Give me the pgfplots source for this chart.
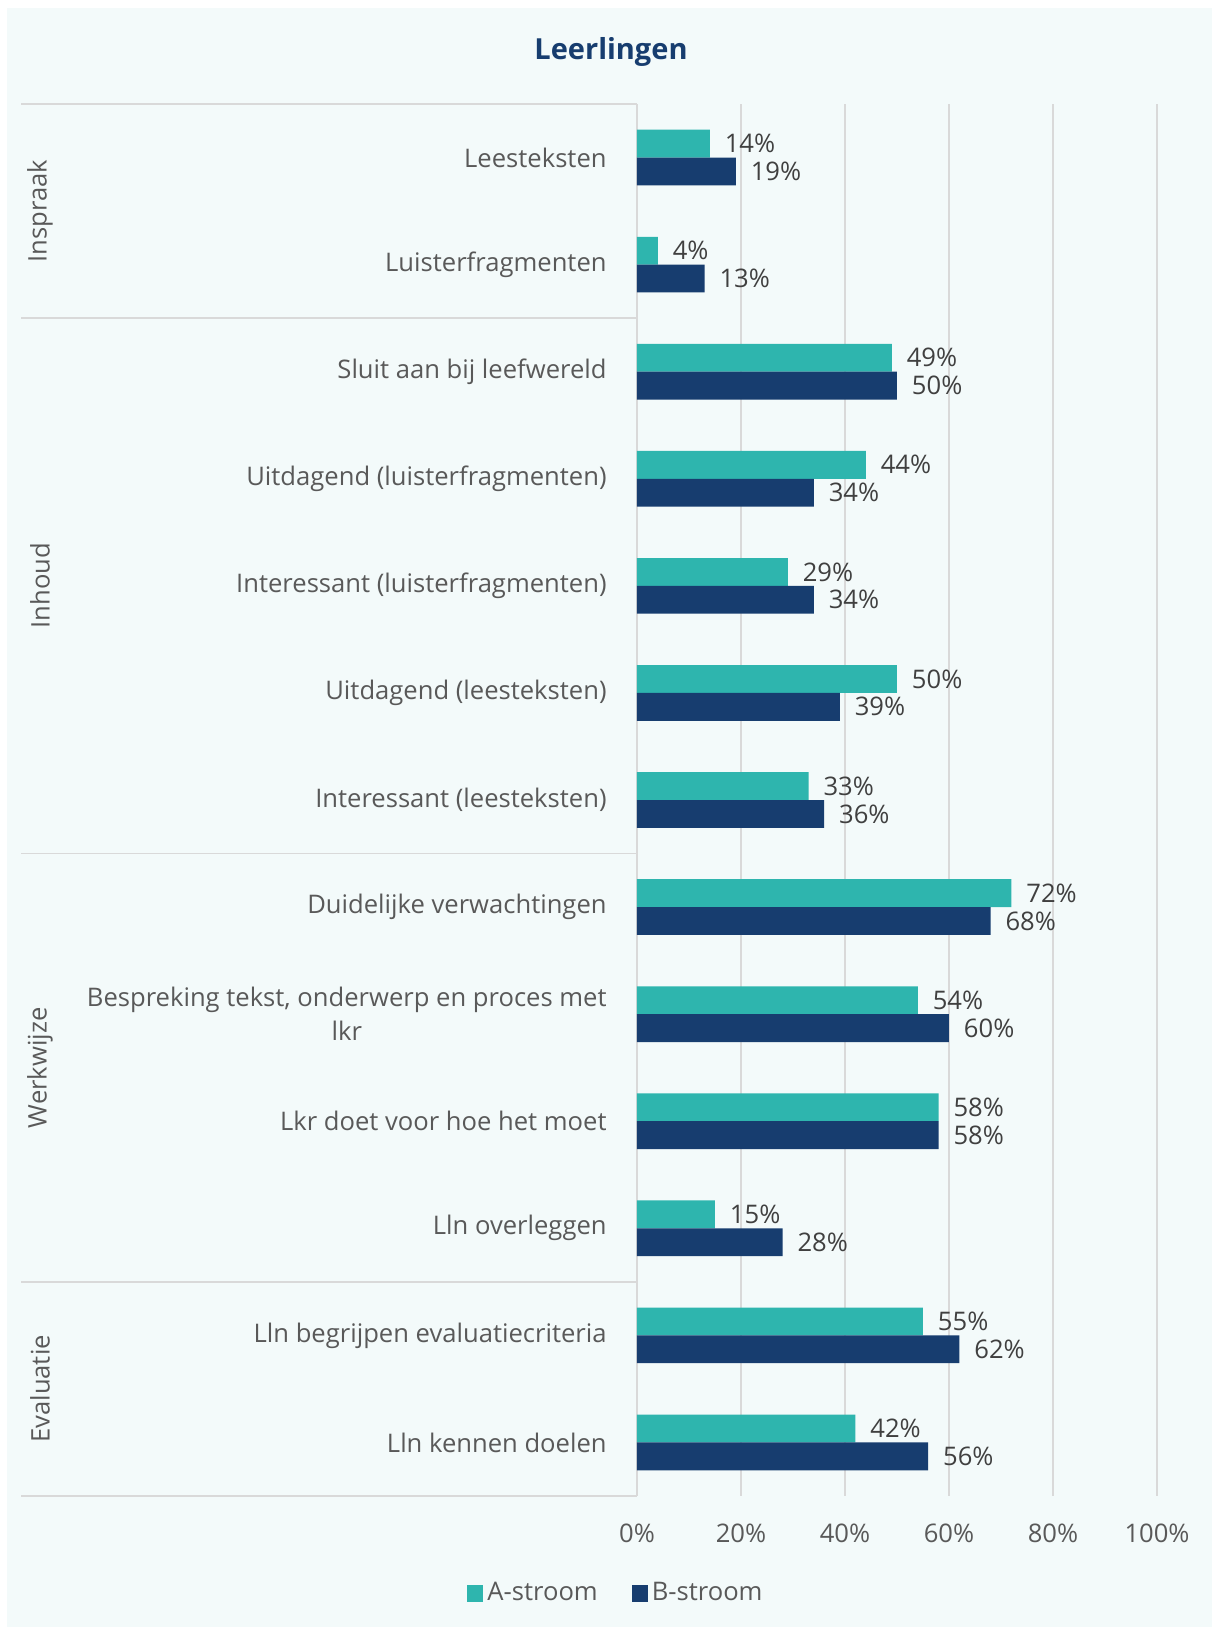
\documentclass[border=0pt]{standalone}
\usepackage{fontspec}
\setmainfont{Open Sans}
\usepackage{pgfplots}
\pgfplotsset{compat=1.18}

\definecolor{astroom}{HTML}{2EB5AE}
\definecolor{bstroom}{HTML}{173D6F}
\definecolor{bgmint}{HTML}{F3FAFA}
\definecolor{gridgray}{HTML}{D9D9D9}
\definecolor{textgray}{HTML}{595959}
\definecolor{labelgray}{HTML}{404040}

\pgfplotsset{sqlegend/.style={legend image code/.code={\fill[##1] (0pt,-4.25pt) rectangle (8pt,4.25pt);}}}

\begin{document}
\begin{tikzpicture}[font=\fontsize{12.8}{17}\selectfont]
\path[use as bounding box, fill=white] (-318.5pt,-65.5pt) rectangle (287.5pt,748pt);
\fill[bgmint] (-315pt,-65.5pt) rectangle (287.5pt,744pt);
\node[font=\fontsize{14.5}{17}\selectfont\bfseries, text=bstroom] at (-13pt,722pt) {Leerlingen};

\begin{axis}[
  at={(0pt,0pt)}, anchor=south west,
  scale only axis, width=260pt, height=696pt,
  xmin=0, xmax=100, ymin=0.5, ymax=13.5,
  y dir=reverse, clip=false,
  xbar=0pt, bar width=0.26,
  xtick={0,20,...,100}, ytick={1,...,13},
  yticklabels={Leesteksten, Luisterfragmenten, Sluit aan bij leefwereld,
    Uitdagend (luisterfragmenten), Interessant (luisterfragmenten),
    Uitdagend (leesteksten), Interessant (leesteksten),
    Duidelijke verwachtingen,
    {Bespreking tekst, onderwerp en proces met\\lkr},
    Lkr doet voor hoe het moet, Lln overleggen,
    Lln begrijpen evaluatiecriteria, Lln kennen doelen},
  xticklabel={\pgfmathprintnumber{\tick}\%},
  /pgf/number format/assume math mode=true,
  major tick length=0pt,
  axis line style={draw=none},
  xmajorgrids,
  major grid style={draw=gridgray, line width=0.8pt},
  tick label style={text=textgray},
  xticklabel style={anchor=center, yshift=-18.5pt},
  yticklabel style={align=center, anchor=east, inner sep=0pt, xshift=-15pt},
  nodes near coords={\pgfmathprintnumber{\pgfplotspointmeta}\%},
  point meta=x,
  nodes near coords style={text=labelgray, anchor=west, inner sep=0pt, xshift=7.3pt},
  legend style={at={(-0.0385,-0.0697)}, anchor=center, draw=none, fill=none,
    legend columns=2, text=textgray,
    /tikz/every even column/.append style={column sep=15pt}},
]
\addplot[fill=astroom, draw=none, sqlegend]
  coordinates {(14,1) (4,2) (49,3) (44,4) (29,5) (50,6) (33,7)
               (72,8) (54,9) (58,10) (15,11) (55,12) (42,13)};
\addplot[fill=bstroom, draw=none, sqlegend]
  coordinates {(19,1) (13,2) (50,3) (34,4) (34,5) (39,6) (36,7)
               (68,8) (60,9) (58,10) (28,11) (62,12) (56,13)};
\legend{A-stroom, B-stroom}

\draw[gridgray, line width=0.8pt] (axis cs:0,0.5) -- ++(-308pt,0pt);
\draw[gridgray, line width=0.8pt] (axis cs:0,2.5) -- ++(-308pt,0pt);
\draw[gridgray, line width=0.8pt] (axis cs:0,7.5) -- ++(-308pt,0pt);
\draw[gridgray, line width=0.8pt] (axis cs:0,11.5) -- ++(-308pt,0pt);
\draw[gridgray, line width=0.8pt] (axis cs:0,13.5) -- ++(-308pt,0pt);
\node[rotate=90, text=textgray] at ([xshift=-298.5pt]axis cs:0,1.5) {Inspraak};
\node[rotate=90, text=textgray] at ([xshift=-298.5pt]axis cs:0,5) {Inhoud};
\node[rotate=90, text=textgray] at ([xshift=-298.5pt]axis cs:0,9.5) {Werkwijze};
\node[rotate=90, text=textgray] at ([xshift=-298.5pt]axis cs:0,12.5) {Evaluatie};
\end{axis}
\end{tikzpicture}
\end{document}
